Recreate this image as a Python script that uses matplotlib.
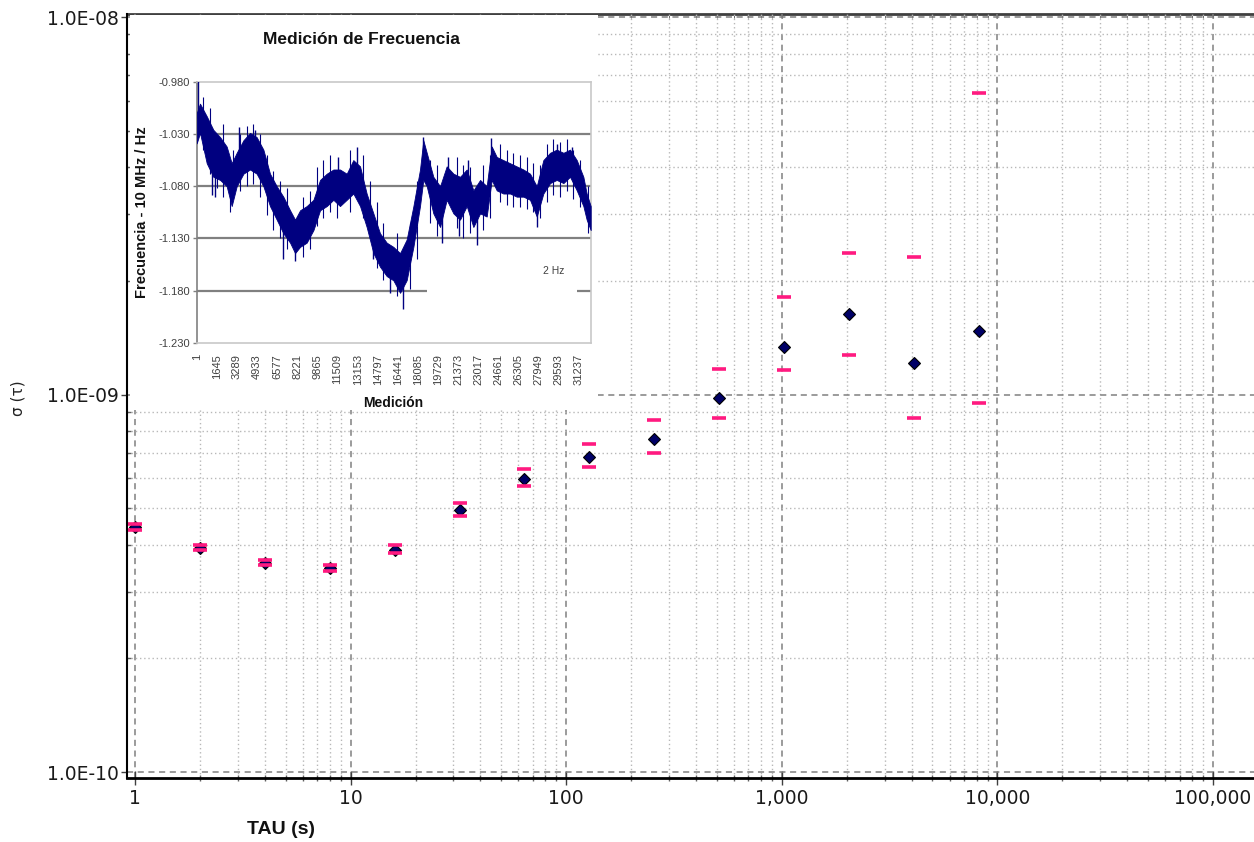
import numpy as np
import matplotlib
matplotlib.use("Agg")
import matplotlib.pyplot as plt
from matplotlib.ticker import LogLocator, FuncFormatter, FixedLocator, NullFormatter
from matplotlib.patches import Rectangle

W, H = 1254, 842

# ---- Allan deviation vs averaging time ----
tau = [1, 2, 4, 8, 16, 32, 64, 128, 256, 512, 1024, 2048, 4096, 8192]
adev = [4.46e-10, 3.92e-10, 3.58e-10, 3.47e-10, 3.87e-10, 4.94e-10, 5.97e-10,
        6.83e-10, 7.62e-10, 9.81e-10, 1.336e-9, 1.631e-9, 1.209e-9, 1.476e-9]
adev_hi = [4.54e-10, 3.99e-10, 3.64e-10, 3.53e-10, 3.99e-10, 5.16e-10, 6.35e-10,
           7.39e-10, 8.56e-10, 1.170e-9, 1.813e-9, 2.375e-9, 2.313e-9, 6.28e-9]
adev_lo = [4.38e-10, 3.87e-10, 3.53e-10, 3.41e-10, 3.80e-10, 4.77e-10, 5.72e-10,
           6.43e-10, 7.00e-10, 8.68e-10, 1.161e-9, 1.272e-9, 8.66e-10, 9.51e-10]
x_major = [1, 10, 100, 1000, 10000, 100000]
y_major = [1e-10, 1e-9, 1e-8]

# ---- frequency record (upper / lower envelope of the trace) ----
meas_idx = [1, 270, 820, 1360, 1910, 2450, 2860, 3270, 3820, 4360, 4900, 5450,
            5990, 6540, 7080, 7630, 8040, 8450, 8990, 9540, 10080, 10630, 11170,
            11710, 12260, 12800, 13350, 13890, 14440, 14980, 15530, 16070, 16620,
            17160, 17710, 18250, 18520, 18800, 19340, 19890, 20430, 20980, 21520,
            22070, 22610, 23160, 23700, 24110, 24520, 25060, 25610, 26150, 26700,
            27240, 27790, 28330, 28880, 29420, 29970, 30510, 31060, 31600, 31870,
            32200]
freq_hi = [-1.010, -1.001, -1.013, -1.026, -1.033, -1.042, -1.058, -1.048, -1.036,
           -1.029, -1.033, -1.045, -1.068, -1.080, -1.090, -1.103, -1.112, -1.103,
           -1.099, -1.093, -1.074, -1.068, -1.064, -1.064, -1.068, -1.055, -1.061,
           -1.087, -1.106, -1.125, -1.134, -1.138, -1.144, -1.131, -1.099, -1.064,
           -1.036, -1.048, -1.071, -1.080, -1.061, -1.068, -1.071, -1.064, -1.084,
           -1.074, -1.080, -1.042, -1.052, -1.055, -1.058, -1.061, -1.064, -1.068,
           -1.080, -1.055, -1.048, -1.045, -1.048, -1.045, -1.055, -1.071, -1.087,
           -1.099]
freq_lo = [-1.039, -1.029, -1.058, -1.071, -1.074, -1.080, -1.099, -1.080, -1.068,
           -1.064, -1.068, -1.080, -1.099, -1.112, -1.125, -1.134, -1.144, -1.138,
           -1.134, -1.122, -1.103, -1.099, -1.093, -1.099, -1.093, -1.087, -1.099,
           -1.119, -1.144, -1.157, -1.166, -1.170, -1.182, -1.170, -1.138, -1.099,
           -1.074, -1.080, -1.106, -1.119, -1.093, -1.106, -1.112, -1.099, -1.119,
           -1.106, -1.109, -1.074, -1.084, -1.087, -1.087, -1.090, -1.090, -1.093,
           -1.109, -1.087, -1.077, -1.074, -1.077, -1.071, -1.084, -1.099, -1.112,
           -1.122]
# isolated excursions of the trace
spike_idx = [140, 1230, 1500, 3460, 4770, 7080, 8040, 11580, 13130, 14440, 15800,
             16890, 18520, 20020, 20570, 21460, 22200, 22880, 24030, 27790, 29420,
             30650]
spike_val = [-0.970, -1.088, -1.090, -1.023, -1.026, -1.150, -1.152, -1.052, -1.042,
             -1.150, -1.182, -1.197, -1.033, -1.134, -1.052, -1.128, -1.055, -1.136,
             -1.034, -1.119, -1.040, -1.042]
# smaller excursions above and below the band
peak_idx = [540, 1090, 2180, 3000, 3540, 4090, 4630, 5180, 5720, 6270, 6810, 7350,
            8720, 9270, 9810, 10350, 10900, 12530, 13620, 14160, 14710, 15260,
            16340, 17430, 17980, 19070, 19610, 21250, 21790, 22340, 23430, 23970,
            24790, 25330, 25880, 26420, 26970, 27510, 28060, 28600, 29150, 29690,
            30240, 30780, 31330, 32000]
peak_val = [-0.995, -1.005, -1.020, -1.045, -1.030, -1.022, -1.020, -1.030, -1.050,
            -1.065, -1.075, -1.082, -1.090, -1.085, -1.062, -1.055, -1.050, -1.045,
            -1.050, -1.075, -1.095, -1.115, -1.125, -1.115, -1.075, -1.055, -1.060,
            -1.052, -1.060, -1.062, -1.060, -1.050, -1.040, -1.045, -1.048, -1.050,
            -1.052, -1.058, -1.060, -1.040, -1.035, -1.038, -1.035, -1.045, -1.055,
            -1.080]
dip_idx = [540, 1090, 1640, 2180, 2700, 3540, 4090, 4630, 5180, 5720, 6270, 6810,
           7350, 8720, 9270, 9810, 10350, 10900, 11440, 12530, 13620, 14160, 14710,
           15260, 16340, 17430, 17980, 19070, 19610, 21250, 21790, 22340, 23430,
           23970, 24790, 25330, 25880, 26420, 26970, 27510, 28060, 28600, 29150,
           29690, 30240, 30780, 31330, 32000]
dip_val = [-1.045, -1.068, -1.082, -1.090, -1.105, -1.085, -1.080, -1.078, -1.090,
           -1.108, -1.122, -1.130, -1.140, -1.148, -1.140, -1.118, -1.110, -1.105,
           -1.110, -1.105, -1.110, -1.130, -1.158, -1.170, -1.185, -1.178, -1.150,
           -1.115, -1.128, -1.120, -1.130, -1.125, -1.122, -1.110, -1.095, -1.098,
           -1.100, -1.100, -1.102, -1.105, -1.110, -1.095, -1.088, -1.090, -1.085,
           -1.092, -1.100, -1.125]
inset_yticks = [-1.230, -1.180, -1.130, -1.080, -1.030, -0.980]
inset_grid = [-1.030, -1.080, -1.130, -1.180]
inset_xticks = [1, 1645, 3289, 4933, 6577, 8221, 9865, 11509, 13153, 14797, 16441,
                18085, 19729, 21373, 23017, 24661, 26305, 27949, 29593, 31237]


def fx(px):
    return px / W


def fy(py):
    return 1 - py / H


def rect(x0, y0, x1, y1):
    return [fx(x0), fy(y1), fx(x1) - fx(x0), fy(y0) - fy(y1)]


fig = plt.figure(figsize=(W / 100, H / 100), dpi=100)
fig.patch.set_facecolor("white")

# ---------------- main log-log chart ----------------
ax = fig.add_axes(rect(127, 14, 1254, 778))
ax.set_xscale("log")
ax.set_yscale("log")
ax.set_xlim(10 ** (-8 / 215.6), 10 ** ((1254 - 135) / 215.6))
ax.set_ylim(10 ** (-10 - 6 / 377.5), 10 ** (-8 + 3 / 377.5))

ax.xaxis.set_major_locator(FixedLocator(x_major))
ax.xaxis.set_minor_locator(LogLocator(base=10, subs=np.arange(2, 10), numticks=20))
ax.xaxis.set_minor_formatter(NullFormatter())
ax.xaxis.set_major_formatter(FuncFormatter(lambda v, p: f"{v:,.0f}"))
ax.yaxis.set_major_locator(FixedLocator(y_major))
ax.yaxis.set_minor_locator(LogLocator(base=10, subs=np.arange(2, 10), numticks=20))
ax.yaxis.set_minor_formatter(NullFormatter())
ax.yaxis.set_major_formatter(FuncFormatter(lambda v, p: f"{v:.1E}"))

ax.set_axisbelow(True)
ax.grid(which="major", linestyle=(0, (4, 3)), color="#808080", linewidth=1.1)
ax.grid(which="minor", linestyle=(0, (1, 2)), color="#b8b8b8", linewidth=1.0)

for s in ("right", "top"):
    ax.spines[s].set_visible(False)
ax.spines["left"].set_color("black")
ax.spines["left"].set_linewidth(1.5)
ax.spines["bottom"].set_color("black")
ax.spines["bottom"].set_linewidth(2.0)

ax.tick_params(axis="x", which="major", direction="inout", length=10, width=1,
               color="#404040", pad=3, labelsize=13.5, labelcolor="#1a1a1a")
ax.tick_params(axis="x", which="minor", direction="inout", length=4, width=1,
               color="#606060")
ax.tick_params(axis="y", which="major", direction="out", length=4, width=1,
               color="#404040", pad=2, labelsize=13.5, labelcolor="#1a1a1a")
ax.tick_params(axis="y", which="minor", direction="in", length=3, width=1,
               color="#606060")
for lab in ax.get_xticklabels() + ax.get_yticklabels():
    lab.set_family("DejaVu Sans")

# top frame line with its own small ticks
top = ax.secondary_xaxis("top")
top.xaxis.set_major_locator(FixedLocator(x_major))
top.xaxis.set_minor_locator(LogLocator(base=10, subs=np.arange(2, 10), numticks=20))
top.xaxis.set_major_formatter(NullFormatter())
top.xaxis.set_minor_formatter(NullFormatter())
top.tick_params(which="both", direction="in", length=3, color="#505050")
top.spines["top"].set_color("#404040")
top.spines["top"].set_linewidth(2.0)

# data: diamonds with upper / lower limit marks
ax.plot(tau, adev, linestyle="none", marker="D", markersize=6.3,
        markerfacecolor="#000066", markeredgecolor="black", markeredgewidth=0.8,
        zorder=5, clip_on=False)
for lim in (adev_hi, adev_lo):
    ax.plot(tau, lim, linestyle="none", marker="_", markersize=9.8,
            markeredgewidth=2.6, color="#ff1a80", zorder=6, clip_on=False)

fig.text(fx(281), fy(829), "TAU (s)", ha="center", va="center",
         fontsize=14, fontweight="bold", family="Liberation Sans", color="#111111")
fig.text(fx(18), fy(398), "σ (τ)", ha="center", va="center", rotation=90,
         fontsize=11, family="DejaVu Sans", color="#222222")

# ---------------- embedded frequency chart ----------------
box = fig.add_axes(rect(130, 15, 598, 410), zorder=3)
box.set_facecolor("white")
box.set_xticks([])
box.set_yticks([])
for s in box.spines.values():
    s.set_visible(False)

ai = fig.add_axes(rect(196.7, 81.7, 590.7, 343), zorder=4)
ai.set_facecolor("white")
ai.set_xlim(1, 32200)
ai.set_ylim(-1.230, -0.980)
ai.set_yticks(inset_yticks)
ai.set_yticklabels([f"{v:.3f}" for v in inset_yticks])
ai.set_xticks(inset_xticks)
ai.set_xticklabels([str(v) for v in inset_xticks], rotation=90, ha="center", va="top")
ai.tick_params(axis="y", direction="out", length=3, width=1, color="#808080",
               pad=2, labelsize=8, labelcolor="#404040")
ai.tick_params(axis="x", length=0, pad=8, labelsize=8, labelcolor="#404040")
for lab in ai.get_xticklabels() + ai.get_yticklabels():
    lab.set_family("Liberation Sans")
ai.spines["left"].set_color("#808080")
ai.spines["left"].set_linewidth(1.2)
for s in ("top", "right", "bottom"):
    ai.spines[s].set_color("#c8c8c8")
    ai.spines[s].set_linewidth(1.2)

for g in inset_grid:
    ai.axhline(g, color="#808080", linewidth=1.6, zorder=1)
# legend area hides part of the lowest grid line
ai.add_patch(Rectangle((0.584, 0.135), 0.380, 0.115, transform=ai.transAxes,
                       facecolor="white", edgecolor="none", zorder=1.5))
ai.text(0.905, 0.275, "2 Hz", transform=ai.transAxes, fontsize=7.5,
        family="Liberation Sans", color="#404040", ha="center", va="center",
        zorder=2)

trace_c = "#000080"
ai.fill_between(meas_idx, freq_lo, freq_hi, color=trace_c, linewidth=0.6,
                edgecolor=trace_c, zorder=3)
mid = [(h + l) / 2 for h, l in zip(freq_hi, freq_lo)]


def band_mid(positions):
    return [mid[int(np.argmin([abs(m - s) for m in meas_idx]))] for s in positions]


ai.vlines(spike_idx, spike_val, band_mid(spike_idx), color=trace_c,
          linewidth=1.0, zorder=3)
ai.vlines(peak_idx, peak_val, band_mid(peak_idx), color=trace_c,
          linewidth=0.8, zorder=3)
ai.vlines(dip_idx, dip_val, band_mid(dip_idx), color=trace_c,
          linewidth=0.8, zorder=3)

fig.text(fx(361), fy(39), "Medición de Frecuencia", ha="center", va="center",
         fontsize=12.5, fontweight="bold", family="Liberation Sans", color="#111111",
         zorder=5)
fig.text(fx(141.7), fy(212.5), "Frecuencia - 10 MHz / Hz", ha="center", va="center",
         rotation=90, fontsize=10.5, fontweight="bold", family="Liberation Sans",
         color="#111111", zorder=5)
fig.text(fx(393), fy(403), "Medición", ha="center", va="center", fontsize=10,
         fontweight="bold", family="Liberation Sans", color="#111111", zorder=5)

fig.savefig("out.png", dpi=100)
